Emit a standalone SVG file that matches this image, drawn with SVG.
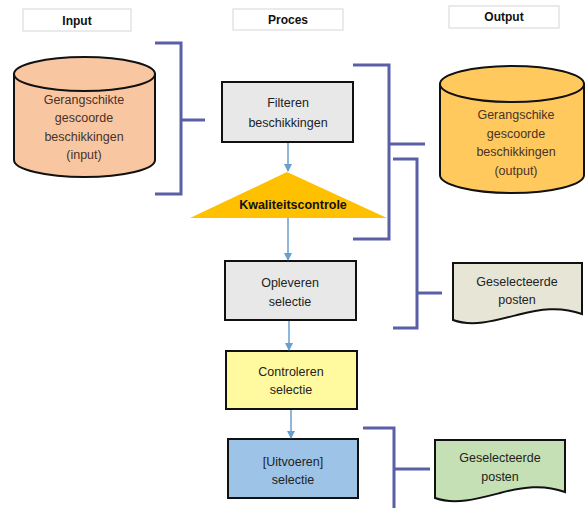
<svg xmlns="http://www.w3.org/2000/svg" width="586" height="508" viewBox="0 0 586 508">
<style>
text{font-family:"Liberation Sans",Arial,sans-serif;text-anchor:middle;}
.hdr{fill:#fff;stroke:#d6d6d6;stroke-width:1;}
.hdrt{font-size:12px;font-weight:bold;fill:#111;}
.box{stroke:#111;stroke-width:2;}
.t{font-size:12.5px;fill:#222;}
.ct{font-size:12.5px;fill:#4a3228;}
.br{fill:none;stroke:#5a5fa8;stroke-width:3;}
.ar{fill:none;stroke:#6a9fcc;stroke-width:1.5;}
</style>
<defs>
<marker id="ah" markerWidth="8" markerHeight="8" refX="7" refY="4" orient="auto" markerUnits="userSpaceOnUse">
<path d="M0,0 L8,4 L0,8 Z" fill="#6a9fcc"/>
</marker>
</defs>

<g id="hdr-input"><rect class="hdr" x="23" y="9" width="108" height="22"/><text class="hdrt" x="77" y="25">Input</text></g>
<g id="hdr-proces"><rect class="hdr" x="233" y="9" width="110" height="21"/><text class="hdrt" x="288" y="24">Proces</text></g>
<g id="hdr-output"><rect class="hdr" x="449" y="6" width="110" height="22"/><text class="hdrt" x="504" y="21">Output</text></g>

<g id="input-db">
<path d="M14,74 L14,160 A70.5,17 0 0 0 155,160 L155,74 Z" fill="#f8c7a2" stroke="#111" stroke-width="2"/>
<ellipse cx="84.5" cy="74" rx="70.5" ry="17" fill="#f8c7a2" stroke="#111" stroke-width="2"/>
<text class="ct" x="84" y="104">Gerangschikte</text>
<text class="ct" x="84" y="122">gescoorde</text>
<text class="ct" x="84" y="141">beschikkingen</text>
<text class="ct" x="84" y="159">(input)</text>
</g>

<g id="output-db">
<path d="M440,84 L440,175 A72,18 0 0 0 584,175 L584,84 Z" fill="#ffc95e" stroke="#111" stroke-width="2"/>
<ellipse cx="512" cy="84" rx="72" ry="18" fill="#ffc95e" stroke="#111" stroke-width="2"/>
<text class="ct" x="516" y="119">Gerangschike</text>
<text class="ct" x="516" y="138">gescoorde</text>
<text class="ct" x="516" y="156">beschikkingen</text>
<text class="ct" x="516" y="175">(output)</text>
</g>

<g id="filteren">
<rect class="box" x="222" y="82" width="131" height="60" fill="#e8e8e8"/>
<text class="t" x="288" y="107">Filteren</text>
<text class="t" x="288" y="127">beschikkingen</text>
</g>

<g id="kwaliteit">
<polygon points="287,172 387,218 190,218" fill="#ffc000"/>
<text x="293" y="209" style="font-size:12.5px;font-weight:bold;fill:#111;">Kwaliteitscontrole</text>
</g>

<g id="opleveren">
<rect class="box" x="225" y="261" width="131" height="59" fill="#e8e8e8"/>
<text class="t" x="290" y="287">Opleveren</text>
<text class="t" x="290" y="306">selectie</text>
</g>

<g id="controleren">
<rect class="box" x="226" y="351" width="131" height="58" fill="#fff9a0"/>
<text class="t" x="291" y="376">Controleren</text>
<text class="t" x="291" y="394">selectie</text>
</g>

<g id="uitvoeren">
<rect class="box" x="228" y="439" width="130" height="59" fill="#9dc3e6"/>
<text class="t" x="293" y="466">[Uitvoeren]</text>
<text class="t" x="293" y="484">selectie</text>
</g>

<g id="doc1">
<path d="M453,263 H582 V314 C560,306 540,309 517,315 C494,321 472,327 453,320 Z" fill="#e6e5d6" stroke="#111" stroke-width="2"/>
<text class="t" x="517" y="286">Geselecteerde</text>
<text class="t" x="517" y="304">posten</text>
</g>

<g id="doc2">
<path d="M435,440 H565 V492 C543,484 523,487 500,493 C477,499 455,505 435,498 Z" fill="#c5e0b4" stroke="#111" stroke-width="2"/>
<text class="t" x="500" y="462">Geselecteerde</text>
<text class="t" x="500" y="481">posten</text>
</g>

<g id="connectors">
<line class="ar" x1="288" y1="143" x2="288" y2="171" marker-end="url(#ah)"/>
<line class="ar" x1="288" y1="218" x2="288" y2="260" marker-end="url(#ah)"/>
<line class="ar" x1="289" y1="321" x2="289" y2="350" marker-end="url(#ah)"/>
<line class="ar" x1="291" y1="410" x2="291" y2="438" marker-end="url(#ah)"/>
<path class="br" d="M155,43 H181 V194 H155 M181,120 H205"/>
<path class="br" d="M353,65 H389 V239 H353 M389,144 H425"/>
<path class="br" d="M393,159 H417 V328 H393 M417,293 H442"/>
<path class="br" d="M363,428 H394 V508 M394,469 H430"/>
</g>
</svg>
